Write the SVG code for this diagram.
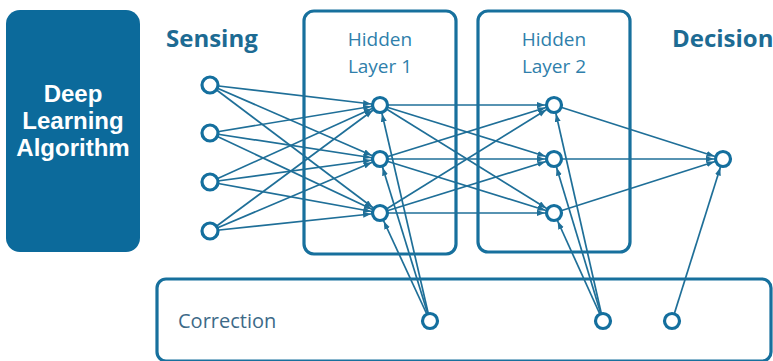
<svg xmlns="http://www.w3.org/2000/svg" width="773" height="361" viewBox="0 0 773 361">
<style>
.bg{fill:#ffffff}
.frame{fill:none;stroke:#17709d;stroke-width:3.2}
.node{fill:#ffffff;stroke:#146f9e;stroke-width:3.2}
.c{stroke:#1f6f98;stroke-width:1.7;fill:none;marker-end:url(#ah)}
.title{font-family:"Open Sans","DejaVu Sans",sans-serif;font-weight:700;font-size:24px;fill:#1d6b93}
.hid{font-family:"Open Sans","DejaVu Sans",sans-serif;font-size:19px;fill:#2f7fab;text-anchor:middle}
.corr{font-family:"Open Sans","DejaVu Sans",sans-serif;font-size:20px;fill:#3d6a88}
.dla{font-family:"Liberation Sans",Arial,sans-serif;font-weight:700;font-size:24px;fill:#ffffff;text-anchor:middle}
</style>
<defs>
<marker id="ah" markerUnits="userSpaceOnUse" markerWidth="20" markerHeight="8" refX="17" refY="3" orient="auto">
<path d="M0,0 L8,3 L0,6 z" fill="#1f6f98"/>
</marker>
</defs>
<rect class="bg" x="0" y="0" width="773" height="361"/>

<g id="deep-learning-algorithm">
<rect x="6" y="10" width="134" height="242" rx="14" fill="#0c6a9b"/>
<text class="dla" x="73" y="102">Deep</text>
<text class="dla" x="73" y="129">Learning</text>
<text class="dla" x="73" y="156">Algorithm</text>
</g>

<g id="sensing-label"><text class="title" x="166" y="47">Sensing</text></g>
<g id="decision-label"><text class="title" x="672" y="47">Decision</text></g>

<g id="hidden-layer-1">
<rect class="frame" x="304" y="11" width="152" height="243" rx="10"/>
<text class="hid" x="380" y="46">Hidden</text>
<text class="hid" x="380" y="73">Layer 1</text>
</g>
<g id="hidden-layer-2">
<rect class="frame" x="478" y="11" width="152" height="241" rx="10"/>
<text class="hid" x="554" y="46">Hidden</text>
<text class="hid" x="554" y="73">Layer 2</text>
</g>
<g id="correction">
<rect class="frame" x="157" y="279" width="614" height="82" rx="9"/>
<text class="corr" x="178" y="328">Correction</text>
</g>

<g id="connectors">
<line class="c" x1="210" y1="85" x2="380" y2="105"/>
<line class="c" x1="210" y1="85" x2="380" y2="159"/>
<line class="c" x1="210" y1="85" x2="380" y2="213"/>
<line class="c" x1="210" y1="133" x2="380" y2="105"/>
<line class="c" x1="210" y1="133" x2="380" y2="159"/>
<line class="c" x1="210" y1="133" x2="380" y2="213"/>
<line class="c" x1="210" y1="182" x2="380" y2="105"/>
<line class="c" x1="210" y1="182" x2="380" y2="159"/>
<line class="c" x1="210" y1="182" x2="380" y2="213"/>
<line class="c" x1="210" y1="231" x2="380" y2="105"/>
<line class="c" x1="210" y1="231" x2="380" y2="159"/>
<line class="c" x1="210" y1="231" x2="380" y2="213"/>
<line class="c" x1="380" y1="105" x2="554" y2="105"/>
<line class="c" x1="380" y1="105" x2="554" y2="159"/>
<line class="c" x1="380" y1="105" x2="554" y2="213"/>
<line class="c" x1="380" y1="159" x2="554" y2="105"/>
<line class="c" x1="380" y1="159" x2="554" y2="159"/>
<line class="c" x1="380" y1="159" x2="554" y2="213"/>
<line class="c" x1="380" y1="213" x2="554" y2="105"/>
<line class="c" x1="380" y1="213" x2="554" y2="159"/>
<line class="c" x1="380" y1="213" x2="554" y2="213"/>
<line class="c" x1="554" y1="105" x2="723" y2="159"/>
<line class="c" x1="554" y1="159" x2="723" y2="159"/>
<line class="c" x1="554" y1="213" x2="723" y2="159"/>
<line class="c" x1="430" y1="321" x2="380" y2="105"/>
<line class="c" x1="430" y1="321" x2="380" y2="159"/>
<line class="c" x1="430" y1="321" x2="380" y2="213"/>
<line class="c" x1="603" y1="321" x2="554" y2="105"/>
<line class="c" x1="603" y1="321" x2="554" y2="159"/>
<line class="c" x1="603" y1="321" x2="554" y2="213"/>
<line class="c" x1="672" y1="321" x2="723" y2="159"/>
</g>

<g id="sensing-nodes">
<circle class="node" cx="210" cy="85" r="8"/>
<circle class="node" cx="210" cy="133" r="8"/>
<circle class="node" cx="210" cy="182" r="8"/>
<circle class="node" cx="210" cy="231" r="8"/>
</g>
<g id="hidden-1-nodes">
<circle class="node" cx="380" cy="105" r="7.5"/>
<circle class="node" cx="380" cy="159" r="7.5"/>
<circle class="node" cx="380" cy="213" r="7.5"/>
</g>
<g id="hidden-2-nodes">
<circle class="node" cx="554" cy="105" r="7.5"/>
<circle class="node" cx="554" cy="159" r="7.5"/>
<circle class="node" cx="554" cy="213" r="7.5"/>
</g>
<g id="decision-node">
<circle class="node" cx="723" cy="159" r="7.5"/>
</g>
<g id="correction-nodes">
<circle class="node" cx="430" cy="321" r="7.5"/>
<circle class="node" cx="603" cy="321" r="7.5"/>
<circle class="node" cx="672" cy="321" r="7.5"/>
</g>
</svg>
